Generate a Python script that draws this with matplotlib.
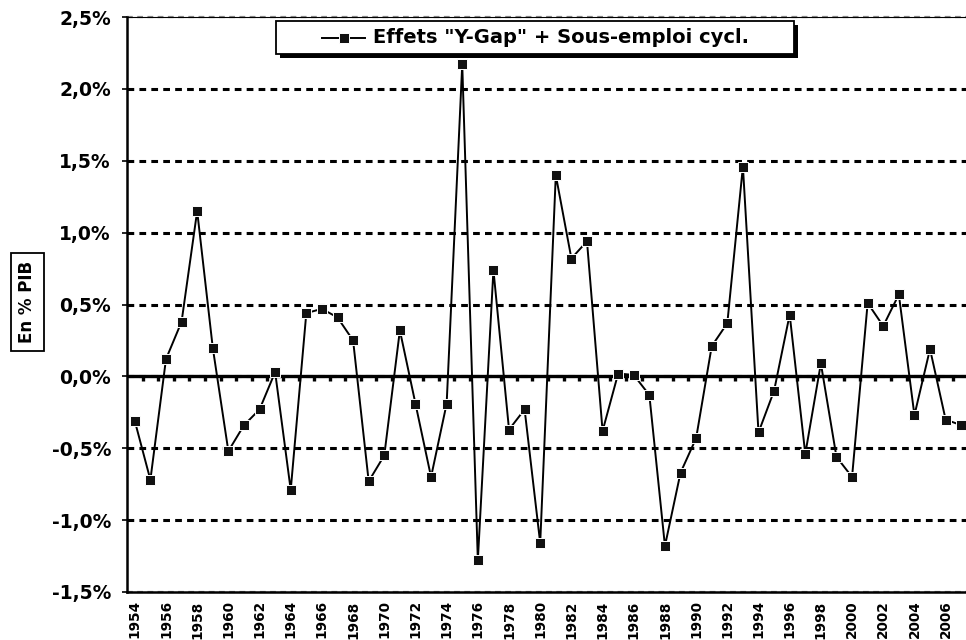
import numpy as np
import matplotlib
matplotlib.use('Agg')
import matplotlib.pyplot as plt
from matplotlib.patches import Rectangle
from matplotlib.lines import Line2D

plt.rcParams['font.family'] = ['DejaVu Sans']
plt.rcParams['font.weight'] = 'bold'

years = list(range(1954, 2008))
# en % du PIB
effets = [-0.31, -0.72, 0.12, 0.38, 1.15, 0.20, -0.52, -0.34, -0.23, 0.03,
          -0.79, 0.44, 0.47, 0.41, 0.25, -0.73, -0.55, 0.32, -0.19, -0.70,
          -0.19, 2.17, -1.28, 0.74, -0.37, -0.23, -1.16, 1.40, 0.82, 0.94,
          -0.38, 0.02, 0.01, -0.13, -1.18, -0.67, -0.43, 0.21, 0.37, 1.46,
          -0.39, -0.10, 0.43, -0.54, 0.09, -0.56, -0.70, 0.51, 0.35, 0.57,
          -0.27, 0.19, -0.30, -0.34]
yticks = [-1.5, -1.0, -0.5, 0.0, 0.5, 1.0, 1.5, 2.0, 2.5]
label_serie = 'Effets "Y-Gap" + Sous-emploi cycl.'

W, H = 966, 640
fig = plt.figure(figsize=(W / 100, H / 100), dpi=100)
ax = fig.add_axes([127 / W, 1 - 592 / H, (969 - 127) / W, (592 - 17) / H])

x = np.array(years)
ax.set_xlim(years[0] - 0.5, years[-1] + 0.5)
ax.set_ylim(yticks[0], yticks[-1])

# grille pointillee (plus claire sur les bords du cadre)
for v in yticks:
    if v in (yticks[0], yticks[-1]):
        ax.axhline(v, color='#8a8a8a', lw=1.6, dashes=(2.6, 2.0), zorder=1, clip_on=False)
    else:
        ax.axhline(v, color='black', lw=2.2, dashes=(2.2, 1.7), zorder=1)

# axe des abscisses a zero, avec graduations entre categories
ax.axhline(0, color='black', lw=2.4, zorder=2)
ax.vlines(x[:-1] + 0.5, -0.03, 0, color='black', lw=2.4, zorder=2)

ax.plot(x, effets, color='black', lw=1.4, marker='s', ms=7.8,
        mfc='#111111', mec='white', mew=0.7, zorder=3, clip_on=False)

ax.set_yticks(yticks)
ax.set_yticklabels([f'{v:.1f}%'.replace('.', ',') for v in yticks], fontsize=13.5,
                   fontweight='bold')
ax.tick_params(axis='y', length=3.5, width=1.2, pad=8)

even = [y for y in years if y % 2 == 0]
ax.set_xticks(even)
ax.set_xticklabels([str(y) for y in even], rotation=90, fontsize=9.8,
                   fontweight='bold')
ax.tick_params(axis='x', length=0, pad=6)

ax.spines['left'].set_linewidth(1.8)
ax.spines['bottom'].set_linewidth(1.8)
ax.spines['top'].set_linewidth(0.8)
ax.spines['right'].set_visible(False)

# titre de l'axe y dans un cadre
fig.text(27 / W, 1 - 302 / H, 'En % PIB', rotation=90, ha='center', va='center',
         fontsize=12, fontweight='bold',
         bbox=dict(boxstyle='square,pad=0.45', fc='white', ec='black', lw=1.3))


# legende a la Excel, avec ombre
def fx(px):
    return px / W


def fy(py):
    return 1 - py / H


fig.patches.append(Rectangle((fx(280), fy(58)), fx(798) - fx(280), fy(25) - fy(58),
                             transform=fig.transFigure, fc='black', ec='none', zorder=5))
fig.patches.append(Rectangle((fx(276), fy(54)), fx(794) - fx(276), fy(21) - fy(54),
                             transform=fig.transFigure, fc='white', ec='black', lw=1.3,
                             zorder=6))
fig.lines.append(Line2D([fx(322), fx(365)], [fy(37.5), fy(37.5)],
                        transform=fig.transFigure, color='black', lw=1.4, zorder=7))
fig.lines.append(Line2D([fx(343.5)], [fy(37.5)], transform=fig.transFigure,
                        ls='none', marker='s', ms=7.8, mfc='#111111', mec='white',
                        mew=0.7, zorder=8))
fig.text(fx(373), fy(37.5), label_serie, ha='left', va='center', fontsize=14,
         fontweight='bold', zorder=8)

fig.savefig('out.png', dpi=100)
